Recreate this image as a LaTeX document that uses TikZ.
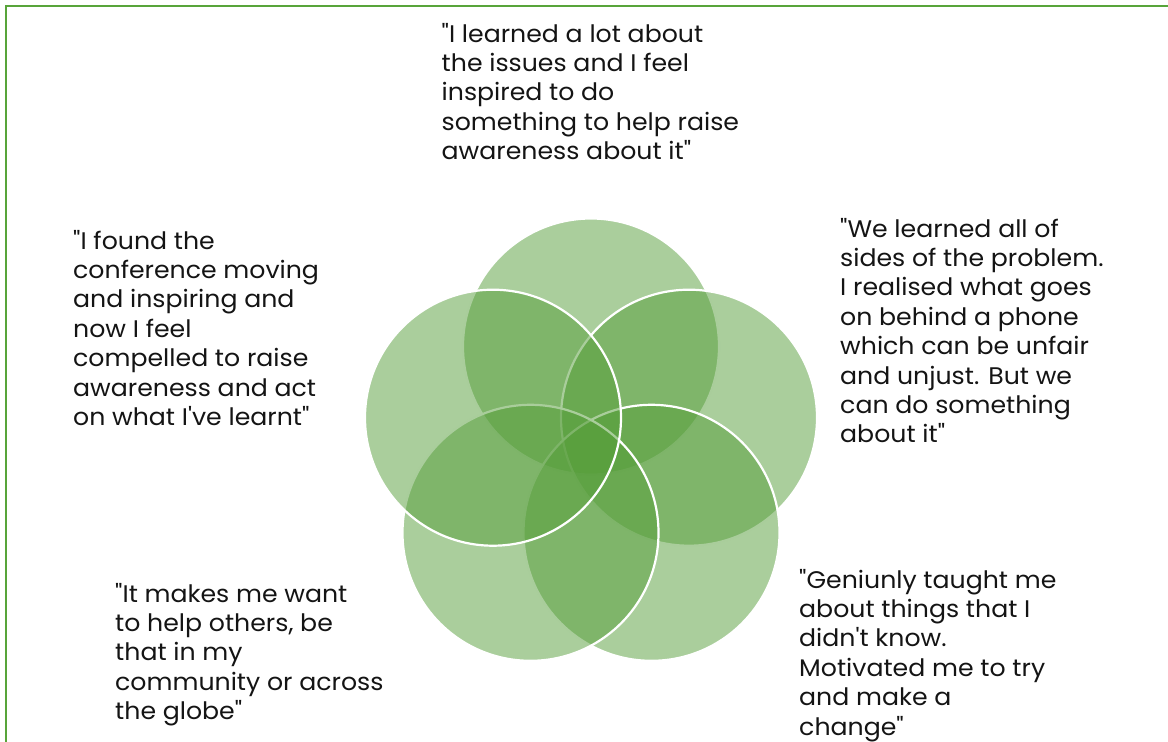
\documentclass[tikz,border=0pt]{standalone}
\usepackage{fontspec}
\setmainfont{Poppins}[Ligatures=TeXOff, FakeStretch=1.05]
\definecolor{framegreen}{RGB}{88,164,58}
\definecolor{petalgreen}{RGB}{85,157,57}
\tikzset{
  petal/.style={fill=petalgreen, fill opacity=0.5, draw=white, line width=2.2pt},
  quote/.style={anchor=base west, inner sep=0pt, text=black!92,
    font=\fontsize{24}{29.4}\selectfont},
}
\newcommand{\quotelines}[1]{\begin{tabular}[t]{@{}l@{}}#1\end{tabular}}
\begin{document}
\begin{tikzpicture}[x=1pt,y=-1pt]
\useasboundingbox (0,0) rectangle (1168,742);
% frame on the left and top
\draw[framegreen, line width=2.4pt] (6,742) -- (6,6) -- (1168,6);
% five overlapping circles, drawn in order
\coordinate (ctop) at (591,346.5);
\coordinate (cright) at (689,417.7);
\coordinate (cbright) at (651.5,532.8);
\coordinate (cbleft) at (530.5,532.8);
\coordinate (cleft) at (493,417.7);
\draw[petal] (ctop) circle[radius=128];
\draw[petal] (cright) circle[radius=128];
\draw[petal] (cbright) circle[radius=128];
\draw[petal] (cbleft) circle[radius=128];
\draw[petal] (cleft) circle[radius=128];
% quotations
\node[quote] (qtop) at (441.5,42) {\quotelines{"I learned a lot about\\the issues and I feel\\inspired to do\\something to help raise\\awareness about it"}};
\node[quote] (qleft) at (73,249) {\quotelines{"I found the\\conference moving\\and inspiring and\\now I feel\\compelled to raise\\awareness and act\\on what I've learnt"}};
\node[quote] (qright) at (840,237) {\quotelines{"We learned all of\\sides of the problem.\\I realised what goes\\on behind a phone\\which can be unfair\\and unjust. But we\\can do something\\about it"}};
\node[quote] (qbright) at (799,588) {\quotelines{"Geniunly taught me\\about things that I\\didn't know.\\Motivated me to try\\and make a\\change"}};
\node[quote] (qbleft) at (115,602) {\quotelines{"It makes me want\\to help others, be\\that in my\\community or across\\the globe"}};
\end{tikzpicture}
\end{document}
